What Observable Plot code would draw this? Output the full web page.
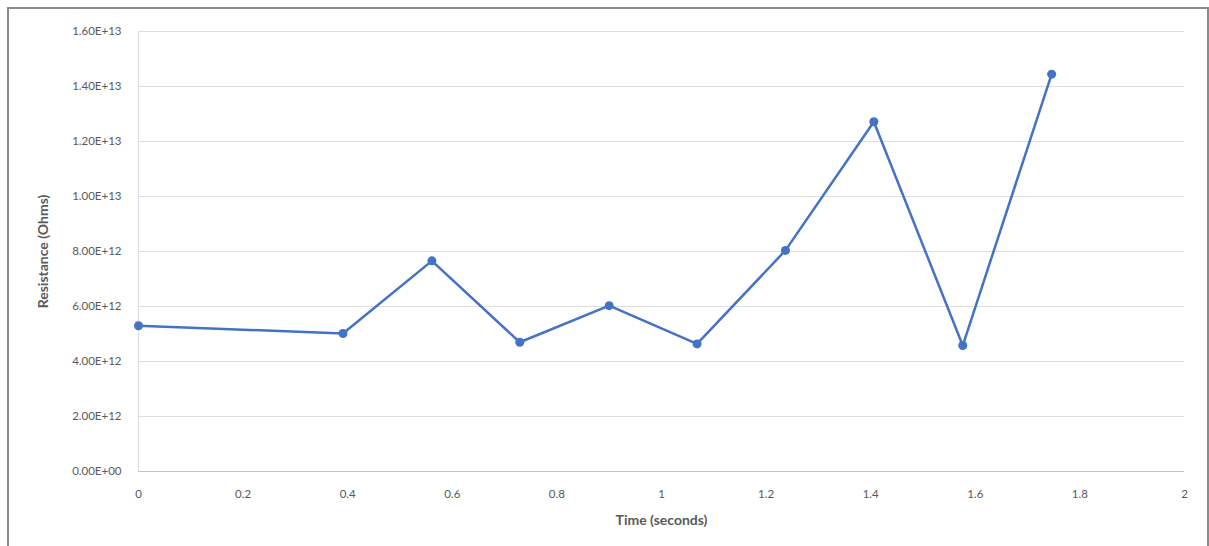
<!DOCTYPE html>
<html>
<head>
<meta charset="utf-8">
<script src="https://cdn.jsdelivr.net/npm/d3@7"></script>
<script src="https://cdn.jsdelivr.net/npm/@observablehq/plot@0.6"></script>
<style>
  html, body { margin: 0; padding: 0; background: #fff; width: 1209px; height: 546px; overflow: hidden; }
  #frame { position: absolute; left: 7px; top: 7px; width: 1198px; height: 600px;
           border-top: 2px solid #8a8a8a; border-left: 2px solid #8a8a8a; border-right: 2px solid #8a8a8a; pointer-events: none; }
  #chart { position: absolute; left: 0; top: 0; }
  #chart svg [aria-label="y-axis label"], #chart svg [aria-label="x-axis label"] {
    font-weight: bold; font-size: 14px; fill: #595959;
  }
</style>
</head>
<body>
<div id="chart"></div>
<div id="frame"></div>
<script>
const times = [0, 0.391, 0.561, 0.729, 0.900, 1.068, 1.237, 1.406, 1.576, 1.746];
const resistance = [5.30e12, 5.02e12, 7.66e12, 4.70e12, 6.03e12, 4.64e12, 8.04e12, 12.72e12, 4.58e12, 14.45e12];
const xTicks = [0, 0.2, 0.4, 0.6, 0.8, 1, 1.2, 1.4, 1.6, 1.8, 2];
const yTicks = [0, 2e12, 4e12, 6e12, 8e12, 1e13, 1.2e13, 1.4e13, 1.6e13];
const xTitle = "Time (seconds)";
const yTitle = "Resistance (Ohms)";

const data = times.map((t, i) => ({t, r: resistance[i]}));

function sci(d) {
  const s = d.toExponential(2).toUpperCase();
  return s.replace(/E([+-])(\d)$/, "E$10$2");
}

const chart = Plot.plot({
  width: 1209,
  height: 546,
  marginLeft: 138,
  marginRight: 25,
  marginTop: 31,
  marginBottom: 75,
  style: { fontFamily: "Lato, 'Liberation Sans', sans-serif", fontSize: "11.5px", color: "#595959", background: "transparent" },
  x: { domain: [0, 2] },
  y: { domain: [0, 1.6e13] },
  marks: [
    Plot.gridY(yTicks, { stroke: "#dedede", strokeOpacity: 1, strokeWidth: 1.2 }),
    Plot.ruleX([0], { stroke: "#dedede", strokeWidth: 1.2 }),
    Plot.ruleY([0], { stroke: "#c4c4c4", strokeWidth: 1.2 }),
    Plot.axisY(yTicks, { tickSize: 0, tickPadding: 17, tickFormat: sci, fill: "#595959",
      label: yTitle, labelAnchor: "center", labelArrow: false, labelOffset: 100 }),
    Plot.axisX(xTicks, { tickSize: 0, tickPadding: 18, tickFormat: d => String(+d.toFixed(1)), fill: "#595959",
      label: xTitle, labelAnchor: "center", labelArrow: false, labelOffset: 53 }),
    Plot.line(data, { x: "t", y: "r", stroke: "#4472C4", strokeWidth: 2.5 }),
    Plot.dot(data, { x: "t", y: "r", fill: "#4472C4", r: 4.5 })
  ]
});
document.getElementById("chart").appendChild(chart);
</script>
</body>
</html>
